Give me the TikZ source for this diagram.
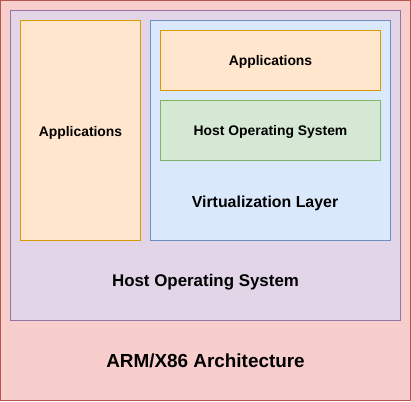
\documentclass[tikz,border=0pt]{standalone}
\usepackage{fontspec}
\setmainfont{Liberation Sans}
\definecolor{redfill}{HTML}{F8CECC}\definecolor{redline}{HTML}{B85450}
\definecolor{purfill}{HTML}{E1D5E7}\definecolor{purline}{HTML}{9673A6}
\definecolor{orfill}{HTML}{FFE6CC}\definecolor{orline}{HTML}{D79B00}
\definecolor{blfill}{HTML}{DAE8FC}\definecolor{blline}{HTML}{6C8EBF}
\definecolor{grfill}{HTML}{D5E8D4}\definecolor{grline}{HTML}{82B366}
\tikzset{
  box/.style={line width=1pt},
  lbl/.style={anchor=base, inner sep=0pt, font=\bfseries\fontsize{#1}{#1}\selectfont},
}
\begin{document}
\begin{tikzpicture}[x=1pt,y=-1pt]
\useasboundingbox (0,0) rectangle (411,401);
\draw[box, fill=redfill, draw=redline] (0.5,0.5) rectangle (410.5,400.5);
\draw[box, fill=purfill, draw=purline] (10.5,10.5) rectangle (400.5,320.5);
\draw[box, fill=orfill, draw=orline] (20.5,20.5) rectangle (140.5,240.5);
\draw[box, fill=blfill, draw=blline] (150.5,20.5) rectangle (390.5,240.5);
\draw[box, fill=orfill, draw=orline] (160.5,30.5) rectangle (380.5,90.5);
\draw[box, fill=grfill, draw=grline] (160.5,100.5) rectangle (380.5,160.5);
\node[lbl=13.9] (appl) at (80.5,136) {Applications};
\node[lbl=13.9] (appi) at (270.5,66) {Applications};
\node[lbl=13.9] (hosti) at (270.5,135.5) {Host Operating System};
\node[lbl=15.9] (virt) at (265,207) {Virtualization Layer};
\node[lbl=16.9] (host) at (205.5,286) {Host Operating System};
\node[lbl=18.9] (arm) at (205.5,367) {ARM/X86 Architecture};
\end{tikzpicture}
\end{document}
